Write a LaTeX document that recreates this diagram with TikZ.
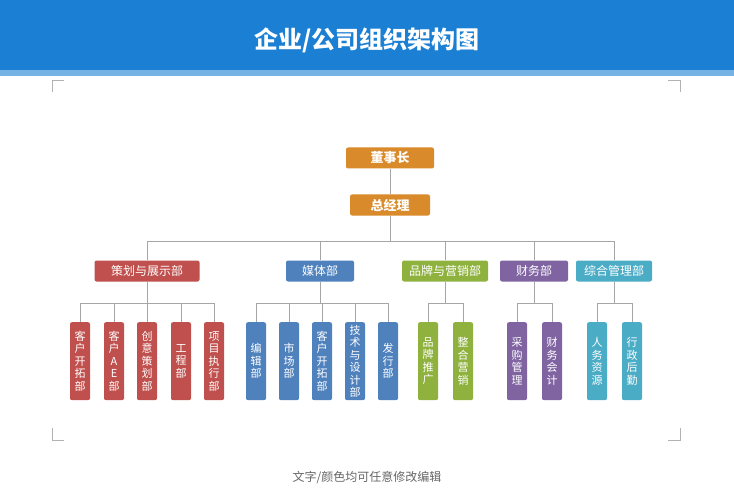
\documentclass[tikz,border=0pt]{standalone}
\usepackage{fontspec}
\setmainfont{Noto Sans CJK SC}
\usetikzlibrary{positioning,calc}
\definecolor{titleblue}{HTML}{1B7FD3}
\definecolor{boss}{HTML}{D98A2A}
\definecolor{cred}{HTML}{C0504D}
\definecolor{cblue}{HTML}{4F81BD}
\definecolor{cgreen}{HTML}{8FB23F}
\definecolor{cpurple}{HTML}{8064A2}
\definecolor{cteal}{HTML}{4BACC6}
\tikzset{
	>=stealth
}
\begin{document}
\begin{tikzpicture}[
x = 1pt, y = -1pt,
every node/.style = {
	text = white,
	inner sep = 0pt
},
dept/.style = {
	rounded corners = 2pt,
	minimum height = 21pt,
	font = \fontsize{12}{12}\selectfont
},
leaf/.style = {
	rounded corners = 2pt,
	minimum width = 20pt,
	minimum height = 78pt,
	anchor = north,
	align = center,
	font = \fontsize{11}{12.5}\selectfont
},
wire/.style = {
	draw = gray!70,
	line width = 0.6pt
},
corner/.style = {
	draw = gray!60,
	line width = 0.8pt
}
]
\useasboundingbox (0,0) rectangle (734,500);
\fill[white] (0,0) rectangle (734,500);
\fill[titleblue] (0,0) rectangle (734,70);
\fill[titleblue!60] (0,70) rectangle (734,76);
\node (title) at (367,40) {\fontsize{24}{24}\selectfont\bfseries 企业/公司组织架构图};

% corner marks
\draw[corner] (52,92) -- (52,80) -- (64,80);
\draw[corner] (668,80) -- (680,80) -- (680,92);
\draw[corner] (52,428) -- (52,440) -- (64,440);
\draw[corner] (668,440) -- (680,440) -- (680,428);

\node (chair) [dept, fill = boss, minimum width = 88pt, font = \fontsize{13}{13}\selectfont\bfseries] at (390,158) {董事长};
\node (gm) [dept, fill = boss, minimum width = 80pt, font = \fontsize{13}{13}\selectfont\bfseries] at (390,205) {总经理};
\draw[wire] (chair) -- (gm);

\coordinate (bus) at (390,241);
\draw[wire] (gm) -- (bus);

\foreach \name/\x/\w/\col/\txt in {
	plan/147/105/cred/策划与展示部,
	media/320/68/cblue/媒体部,
	brand/445/86/cgreen/品牌与营销部,
	fin/534/68/cpurple/财务部,
	admin/614/76/cteal/综合管理部}
{
	\node (\name) [dept, fill = \col, minimum width = \w pt] at (\x,271) {\txt};
	\draw[wire] (\name.north) |- (bus);
}

% leaves
\foreach \dep/\col/\list in {
	plan/cred/{80/客\\户\\开\\拓\\部, 114/客\\户\\A\\E\\部, 147/创\\意\\策\\划\\部, 181/工\\程\\部, 214/项\\目\\执\\行\\部},
	media/cblue/{256/编\\辑\\部, 289/市\\场\\部, 322/客\\户\\开\\拓\\部, 355/技\\术\\与\\设\\计\\部, 388/发\\行\\部},
	brand/cgreen/{428/品\\牌\\推\\广, 463/整\\合\\营\\销},
	fin/cpurple/{517/采\\购\\管\\理, 552/财\\务\\会\\计},
	admin/cteal/{597/人\\务\\资\\源, 632/行\\政\\后\\勤}}
{
	\coordinate (\dep-bus) at ($(\dep.south)+(0,22)$);
	\draw[wire] (\dep.south) -- (\dep-bus);
	\foreach \x/\txt [count=\i] in \list {
		\node (\dep-\i) [leaf, fill = \col] at (\x,322) {\txt};
		\draw[wire] (\dep-\i.north) |- (\dep-bus);
	}
}

\node (foot) [text = gray!80!black, font = \fontsize{12}{12}\selectfont] at (367,477) {文字/颜色均可任意修改编辑};
\end{tikzpicture}
\end{document}
